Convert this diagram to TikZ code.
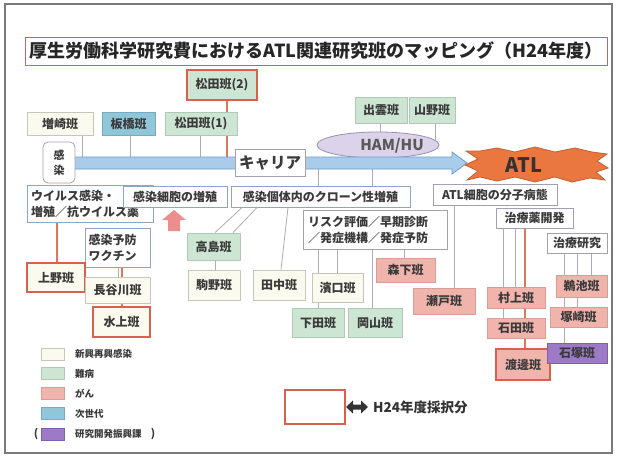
\documentclass[tikz,border=0pt]{standalone}
\usepackage{fontspec}
\setmainfont{Noto Sans CJK JP}
\usetikzlibrary{shapes.geometric}
\pgfdeclarelayer{bg}
\pgfdeclarelayer{paper}
\pgfsetlayers{paper,bg,main}
\definecolor{frameC}{HTML}{7A7A7A}
\definecolor{titleB}{HTML}{B07066}
\definecolor{txt}{HTML}{3A3A3A}
\definecolor{creamF}{HTML}{FAFAEE}
\definecolor{creamB}{HTML}{C6C6BC}
\definecolor{greenF}{HTML}{CDE6D3}
\definecolor{greenB}{HTML}{AFC9B5}
\definecolor{pinkF}{HTML}{F0B4AC}
\definecolor{pinkB}{HTML}{D89D95}
\definecolor{blueF}{HTML}{8FC6D8}
\definecolor{blueB}{HTML}{74ABC2}
\definecolor{purpF}{HTML}{9C7AC8}
\definecolor{purpB}{HTML}{7E5EAE}
\definecolor{redB}{HTML}{D8604C}
\definecolor{catB}{HTML}{8FA5C6}
\definecolor{catG}{HTML}{A2A0B2}
\definecolor{lineC}{HTML}{ADADB6}
\definecolor{redL}{HTML}{D77A5C}
\definecolor{bandF}{HTML}{A9CCEA}
\definecolor{bandB}{HTML}{6F9DCB}
\definecolor{atlF}{HTML}{E9773F}
\definecolor{atlB}{HTML}{C45F35}
\definecolor{hamF}{HTML}{DCD2EA}
\definecolor{hamB}{HTML}{9A8FB6}
\definecolor{upF}{HTML}{EC8D8E}
\tikzset{
  lab/.style={font=\fontsize{12}{13}\selectfont\bfseries, text=txt, inner sep=0pt, line width=0.8pt},
  creambox/.style={lab, draw=creamB, fill=creamF},
  greenbox/.style={lab, draw=greenB, fill=greenF},
  pinkbox/.style={lab, draw=pinkB, fill=pinkF},
  bluebox/.style={lab, draw=blueB, fill=blueF},
  purpbox/.style={lab, draw=purpB, fill=purpF},
  hsel/.style={draw=redB, line width=1.4pt},
  catbox/.style={lab, draw=catB, fill=white, line width=1pt},
  catgbox/.style={lab, draw=catG, fill=white, line width=1pt},
  conn/.style={draw=lineC, line width=0.8pt},
  rconn/.style={draw=redL, line width=1.1pt},
  legsq/.style={draw=#1B, fill=#1F, line width=0.6pt, minimum width=23, minimum height=12, inner sep=0pt},
  legtx/.style={font=\fontsize{9.5}{10}\selectfont\bfseries, text=txt, anchor=west, inner sep=0pt},
}
\begin{document}
\begin{tikzpicture}[x=1pt,y=-1pt]
\useasboundingbox (0,0) rectangle (617,458);
\begin{pgfonlayer}{paper}
\fill[white] (0,0) rectangle (617,458);
\end{pgfonlayer}
\draw[frameC, line width=1.2pt] (5,4) rectangle (612,453);

% title
\node[draw=titleB, line width=1pt, fill=white, minimum width=582, minimum height=28, inner sep=0pt,
      font=\fontsize{18}{19}\selectfont\bfseries, text=black!85] (title) at (316,51)
      {厚生労働科学研究費におけるATL関連研究班のマッピング（H24年度）};

% top research groups
\node[greenbox, hsel, minimum width=70, minimum height=30] (matsuda2) at (222,85) {松田班(2)};
\node[creambox, minimum width=66, minimum height=23] (masuzaki) at (60,123.5) {増崎班};
\node[bluebox, minimum width=53, minimum height=23] (itabashi) at (128.5,123.5) {板橋班};
\node[greenbox, minimum width=72, minimum height=23] (matsuda1) at (201,123.5) {松田班(1)};
\node[greenbox, minimum width=52, minimum height=26] (izumo) at (381,110) {出雲班};
\node[greenbox, minimum width=46, minimum height=26] (yamano) at (432,110) {山野班};

% HAM/HU
\node[ellipse, draw=hamB, fill=hamF, line width=0.8pt, minimum width=122, minimum height=26, inner sep=0pt] (hamhu) at (378,145) {};
\node[font=\fontsize{15}{16}\selectfont\bfseries, text=black!65, inner sep=0pt] (hamtxt) at (392,146) {HAM/HU};

% band arrow
\node[inner sep=0pt, minimum width=380, minimum height=12] (band) at (262,163) {};
\draw[bandB, fill=bandF, line width=0.8pt] (72,157) -- (452,157) -- (452,152) -- (467,163) -- (452,174) -- (452,169) -- (72,169) -- cycle;

% ATL star
\draw[atlB, fill=atlF, line width=0.8pt]
  (480,151) -- (497,148) -- (515,152) -- (535,147) -- (555,152) -- (575,148) -- (592,152)
  -- (607,154) -- (597,161) -- (608,168) -- (596,172) -- (605,180)
  -- (590,178) -- (572,182) -- (555,177) -- (535,182) -- (515,177) -- (497,181) -- (480,177)
  -- (467,180) -- (478,171) -- (465,165) -- (478,159) -- (466,151) -- cycle;
\node[font=\fontsize{20}{21}\selectfont\bfseries, text=black!80, inner sep=0pt] (atl) at (524,165) {ATL};

\node[lab, draw=catG, fill=white, rounded corners=5pt, minimum width=32, minimum height=41, align=center,
      font=\fontsize{11}{15}\selectfont\bfseries] (kansen) at (59,162.5) {感\\染};
\node[lab, draw=catG, fill=white, minimum width=70, minimum height=27,
      font=\fontsize{15.5}{16}\selectfont\bfseries] (carrier) at (270,162.5) {キャリア};

% category boxes
\node[catbox, minimum width=126, minimum height=37, align=left, text width=118,
      font=\fontsize{12}{16}\selectfont\bfseries] (virus) at (90,203.5) {ウイルス感染・\\増殖／抗ウイルス薬};
\node[catbox, minimum width=104, minimum height=21] (saibou) at (175,196.5) {感染細胞の増殖};
\node[catbox, minimum width=179, minimum height=21] (clone) at (320.5,196.5) {感染個体内のクローン性増殖};
\node[catgbox, minimum width=124, minimum height=21] (atlcell) at (495,194.5) {ATL細胞の分子病態};
\node[catbox, minimum width=65, minimum height=39, align=left, text width=58,
      font=\fontsize{12}{16}\selectfont\bfseries] (vaccine) at (117.5,247.5) {感染予防\\ワクチン};
\node[catgbox, minimum width=144, minimum height=39, align=left, text width=134,
      font=\fontsize{12}{16}\selectfont\bfseries] (risk) at (375,229.5) {リスク評価／早期診断\\／発症機構／発症予防};
\node[catgbox, minimum width=77, minimum height=20] (chiryoyaku) at (534.5,218) {治療薬開発};
\node[catgbox, minimum width=60, minimum height=20] (chiryokenkyu) at (577,243) {治療研究};

% pink up arrow
\fill[upF] (174,210) -- (186,220) -- (180,220) -- (180,231) -- (168,231) -- (168,220) -- (162,220) -- cycle;

% research groups
\node[creambox, hsel, minimum width=58, minimum height=29] (ueno) at (56,277.5) {上野班};
\node[creambox, minimum width=65, minimum height=26] (hasegawa) at (117.5,290) {長谷川班};
\node[creambox, hsel, minimum width=57, minimum height=30] (mizukami) at (121.5,322) {水上班};
\node[greenbox, minimum width=53, minimum height=27] (takashima) at (213.5,246.5) {高島班};
\node[creambox, minimum width=52, minimum height=30] (komano) at (214,285) {駒野班};
\node[creambox, minimum width=52, minimum height=30] (tanaka) at (279,285) {田中班};
\node[creambox, minimum width=51, minimum height=29] (hamaguchi) at (337.5,287.5) {濱口班};
\node[greenbox, minimum width=52, minimum height=29] (shimoda) at (318,322.5) {下田班};
\node[greenbox, minimum width=54, minimum height=29] (okayama) at (375,322.5) {岡山班};
\node[pinkbox, minimum width=59, minimum height=24] (morishita) at (405.5,270) {森下班};
\node[pinkbox, minimum width=62, minimum height=26] (seto) at (444,301) {瀬戸班};
\node[pinkbox, minimum width=58, minimum height=21] (murakami) at (516,297.5) {村上班};
\node[pinkbox, minimum width=58, minimum height=20] (ishida) at (516,328) {石田班};
\node[pinkbox, hsel, minimum width=54, minimum height=31] (watanabe) at (523,364.5) {渡邊班};
\node[pinkbox, minimum width=51, minimum height=22] (ukai) at (581.5,286) {鵜池班};
\node[pinkbox, minimum width=57, minimum height=20] (tsukasaki) at (578.5,317) {塚崎班};
\node[purpbox, minimum width=60, minimum height=20] (ishizuka) at (577,353) {石塚班};

% connectors (behind boxes)
\begin{pgfonlayer}{bg}
\draw[conn] ([xshift=22]masuzaki.center) -- ([xshift=22]masuzaki.center |- band.center);
\draw[conn] ([xshift=1.5]itabashi.center) -- ([xshift=1.5]itabashi.center |- band.center);
\draw[conn] ([xshift=-1]matsuda1.center) -- ([xshift=-1]matsuda1.center |- band.center);
\draw[rconn] ([xshift=5]matsuda2.center) -- ([xshift=5]matsuda2.center |- band.center);
\draw[conn] ([xshift=-1]izumo.center) -- ([xshift=-1]izumo.center |- hamhu.center);
\draw[conn] ([xshift=3]yamano.center) -- ([xshift=3]yamano.center |- hamhu.center);
\draw[conn] ([xshift=56]band.center) -- ([xshift=56]band.center |- clone.center);
\draw[conn] ([xshift=110]band.center) -- ([xshift=110]band.center |- clone.center);
\draw[rconn] ([xshift=-33]virus.center) -- ([xshift=-33]virus.center |- ueno.center);
\draw[conn] ([xshift=0.5]vaccine.center) -- ([xshift=0.5]vaccine.center |- hasegawa.center);
\draw[rconn] ([xshift=4.5]vaccine.center) -- ([xshift=4.5]vaccine.center |- mizukami.center);
\draw[conn] ([xshift=-78.5]clone.south) -- ([xshift=1.5]takashima.north);
\draw[conn] ([xshift=-63.5]clone.south) -- ([xshift=19.5]takashima.north);
\draw[conn] ([xshift=1.5]takashima.center) -- ([xshift=1.5]takashima.center |- komano.center);
\draw[conn] ([xshift=-32.5]clone.south) -- ([xshift=2]tanaka.north);
\draw[conn] ([xshift=-57]risk.center) -- ([xshift=-57]risk.center |- hamaguchi.center);
\draw[conn] ([xshift=-38]risk.center) -- ([xshift=-38]risk.center |- hamaguchi.center);
\draw[conn] ([xshift=-19.5]hamaguchi.center) -- ([xshift=-19.5]hamaguchi.center |- shimoda.center);
\draw[conn] ([xshift=-3]risk.center) -- ([xshift=-3]risk.center |- okayama.center);
\draw[conn] ([xshift=29]risk.center) -- ([xshift=29]risk.center |- morishita.center);
\draw[conn] ([xshift=-41]atlcell.center) -- ([xshift=-41]atlcell.center |- seto.center);
\draw[conn] ([xshift=-31.5]chiryoyaku.center) -- ([xshift=-31.5]chiryoyaku.center |- ishida.center);
\draw[conn] ([xshift=-19.5]chiryoyaku.center) -- ([xshift=-19.5]chiryoyaku.center |- murakami.center);
\draw[rconn] ([xshift=-9.5]chiryoyaku.center) -- ([xshift=-9.5]chiryoyaku.center |- watanabe.center);
\draw[conn] ([xshift=-13]chiryokenkyu.center) -- ([xshift=-13]chiryokenkyu.center |- ishizuka.center);
\draw[conn] ([xshift=0]chiryokenkyu.center) -- ([xshift=0]chiryokenkyu.center |- tsukasaki.center);
\draw[conn] ([xshift=14]chiryokenkyu.center) -- ([xshift=14]chiryokenkyu.center |- ukai.center);
\end{pgfonlayer}

% legend
\node[legsq=cream] (lg1) at (53,354) {};
\node[legsq=green] (lg2) at (53,373.5) {};
\node[legsq=pink] (lg3) at (53,393.5) {};
\node[legsq=blue] (lg4) at (53,413.5) {};
\node[legsq=purp] (lg5) at (53,434) {};
\node[legtx] (lt1) at (75,354) {新興再興感染};
\node[legtx] (lt2) at (75,373.5) {難病};
\node[legtx] (lt3) at (75,393.5) {がん};
\node[legtx] (lt4) at (75,413.5) {次世代};
\node[legtx] (lt5) at (75,434) {研究開発振興課};
\node[font=\fontsize{11}{12}\selectfont\bfseries, text=txt, inner sep=0pt] (lp1) at (36,434) {(};
\node[font=\fontsize{11}{12}\selectfont\bfseries, text=txt, inner sep=0pt] (lp2) at (153,434) {)};

\node[draw=redB, line width=1.4pt, fill=white, minimum width=60, minimum height=34, inner sep=0pt] (h24box) at (315,407) {};
\fill[black!80] (346,407) -- (353,400.5) -- (353,404.5) -- (361,404.5) -- (361,400.5) -- (368,407)
  -- (361,413.5) -- (361,409.5) -- (353,409.5) -- (353,413.5) -- cycle;
\node[font=\fontsize{13.5}{14}\selectfont\bfseries, text=black!80, anchor=west, inner sep=0pt] (h24txt) at (373,407) {H24年度採択分};
\end{tikzpicture}
\end{document}
